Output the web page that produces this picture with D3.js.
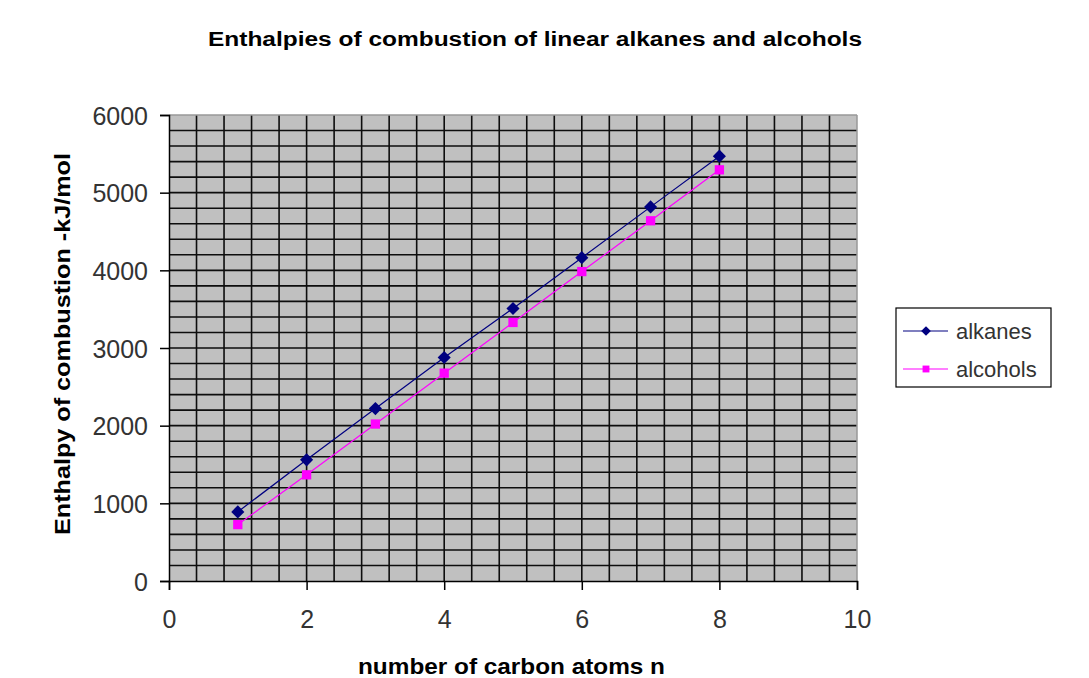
<!DOCTYPE html>
<html>
<head>
<meta charset="utf-8">
<script src="https://cdn.jsdelivr.net/npm/d3@7"></script>
<style>
  body { margin: 0; background: #fff; }
  text { font-family: "Liberation Sans", Arial, sans-serif; }
</style>
</head>
<body>
<svg id="chart" width="1089" height="678"></svg>
<script>
// data
var carbons = [1, 2, 3, 4, 5, 6, 7, 8];
var alkanes = [890, 1560, 2220, 2877, 3509, 4163, 4817, 5470];
var alcohols = [726, 1367, 2021, 2676, 3329, 3984, 4638, 5294];
var xTicks = [0, 2, 4, 6, 8, 10];
var yTicks = [0, 1000, 2000, 3000, 4000, 5000, 6000];
var seriesNames = ["alkanes", "alcohols"];

var svg = d3.select("#chart");
var x = d3.scaleLinear().domain([0, 10]).range([169, 857]);
var y = d3.scaleLinear().domain([0, 6000]).range([581, 115]);

// plot background
svg.append("rect")
  .attr("x", x(0)).attr("y", y(6000))
  .attr("width", x(10) - x(0)).attr("height", y(0) - y(6000))
  .attr("fill", "#c0c0c0");

// grid lines
var grid = svg.append("g").attr("stroke", "#0d0d0d").attr("stroke-width", 1.6);
grid.selectAll("line.v")
  .data(d3.range(0.4, 9.9, 0.4))
  .enter().append("line")
  .attr("x1", d => x(d)).attr("x2", d => x(d))
  .attr("y1", y(0)).attr("y2", y(6000));
grid.selectAll("line.h")
  .data(d3.range(200, 5900, 200))
  .enter().append("line")
  .attr("x1", x(0)).attr("x2", x(10))
  .attr("y1", d => y(d)).attr("y2", d => y(d));

// top/right frame in grey
svg.append("line").attr("x1", x(0)).attr("x2", x(10)).attr("y1", y(6000)).attr("y2", y(6000))
  .attr("stroke", "#999").attr("stroke-width", 1.5);
svg.append("line").attr("x1", x(10)).attr("x2", x(10)).attr("y1", y(6000)).attr("y2", y(0))
  .attr("stroke", "#999").attr("stroke-width", 1.5);

// axes
var yAxis = d3.axisLeft(y).tickValues(yTicks).tickFormat(d3.format("d")).tickSize(9).tickPadding(12);
var gy = svg.append("g").attr("transform", "translate(" + x(0) + ",0)").call(yAxis);
gy.select(".domain").attr("stroke", "#000").attr("stroke-width", 1.5);
gy.selectAll(".tick line").attr("stroke", "#000").attr("stroke-width", 1.5);
gy.selectAll(".tick text")
  .attr("font-size", 25).attr("fill", "#333")
  .attr("font-family", "Liberation Sans, Arial, sans-serif")
  .attr("dy", "0.36em");

var xAxis = d3.axisBottom(x).tickValues(xTicks).tickSize(9).tickPadding(20);
var gx = svg.append("g").attr("transform", "translate(0," + y(0) + ")").call(xAxis);
gx.select(".domain").attr("stroke", "#000").attr("stroke-width", 1.5);
gx.selectAll(".tick line").attr("stroke", "#000").attr("stroke-width", 1.5);
gx.selectAll(".tick text")
  .attr("font-size", 25).attr("fill", "#333")
  .attr("font-family", "Liberation Sans, Arial, sans-serif");

// series
var colors = ["#000080", "#ff00ff"];
var values = [alkanes, alcohols];
var line = d3.line().x((d, i) => x(carbons[i])).y(d => y(d));

values.forEach(function (vals, s) {
  svg.append("path").datum(vals)
    .attr("fill", "none").attr("stroke", colors[s]).attr("stroke-width", 1.2)
    .attr("d", line);
  var sym = s === 0 ? d3.symbolDiamond2 : d3.symbolSquare2;
  var size = s === 0 ? 110 : 110;
  svg.selectAll("path.m" + s)
    .data(vals).enter().append("path")
    .attr("transform", (d, i) => "translate(" + x(carbons[i]) + "," + y(d) + ")")
    .attr("d", d3.symbol().type(sym).size(size))
    .attr("fill", colors[s]);
});

// titles
svg.append("text").attr("x", 208).attr("y", 46)
  .attr("font-size", 20).attr("font-weight", "bold")
  .attr("textLength", 654).attr("lengthAdjust", "spacingAndGlyphs")
  .text("Enthalpies of combustion of linear alkanes and alcohols");

svg.append("text").attr("x", 358).attr("y", 674)
  .attr("font-size", 22).attr("font-weight", "bold")
  .attr("textLength", 307).attr("lengthAdjust", "spacingAndGlyphs")
  .text("number of carbon atoms n");

svg.append("text")
  .attr("transform", "translate(70,535) rotate(-90)")
  .attr("font-size", 22).attr("font-weight", "bold")
  .attr("textLength", 382).attr("lengthAdjust", "spacingAndGlyphs")
  .text("Enthalpy of combustion -kJ/mol");

// legend
var legend = svg.append("g");
legend.append("rect").attr("x", 896).attr("y", 308).attr("width", 155).attr("height", 79)
  .attr("fill", "#fff").attr("stroke", "#000").attr("stroke-width", 1.2);
var rowY = [331, 369];
seriesNames.forEach(function (name, s) {
  legend.append("line").attr("x1", 903).attr("x2", 948)
    .attr("y1", rowY[s]).attr("y2", rowY[s])
    .attr("stroke", colors[s]).attr("stroke-width", 1.2);
  legend.append("path")
    .attr("transform", "translate(926," + rowY[s] + ")")
    .attr("d", d3.symbol().type(s === 0 ? d3.symbolDiamond2 : d3.symbolSquare2).size(s === 0 ? 60 : 60))
    .attr("fill", colors[s]);
  legend.append("text").attr("x", 956).attr("y", rowY[s] + 8)
    .attr("font-size", 22).attr("fill", "#333")
    .text(name);
});
</script>
</body>
</html>
